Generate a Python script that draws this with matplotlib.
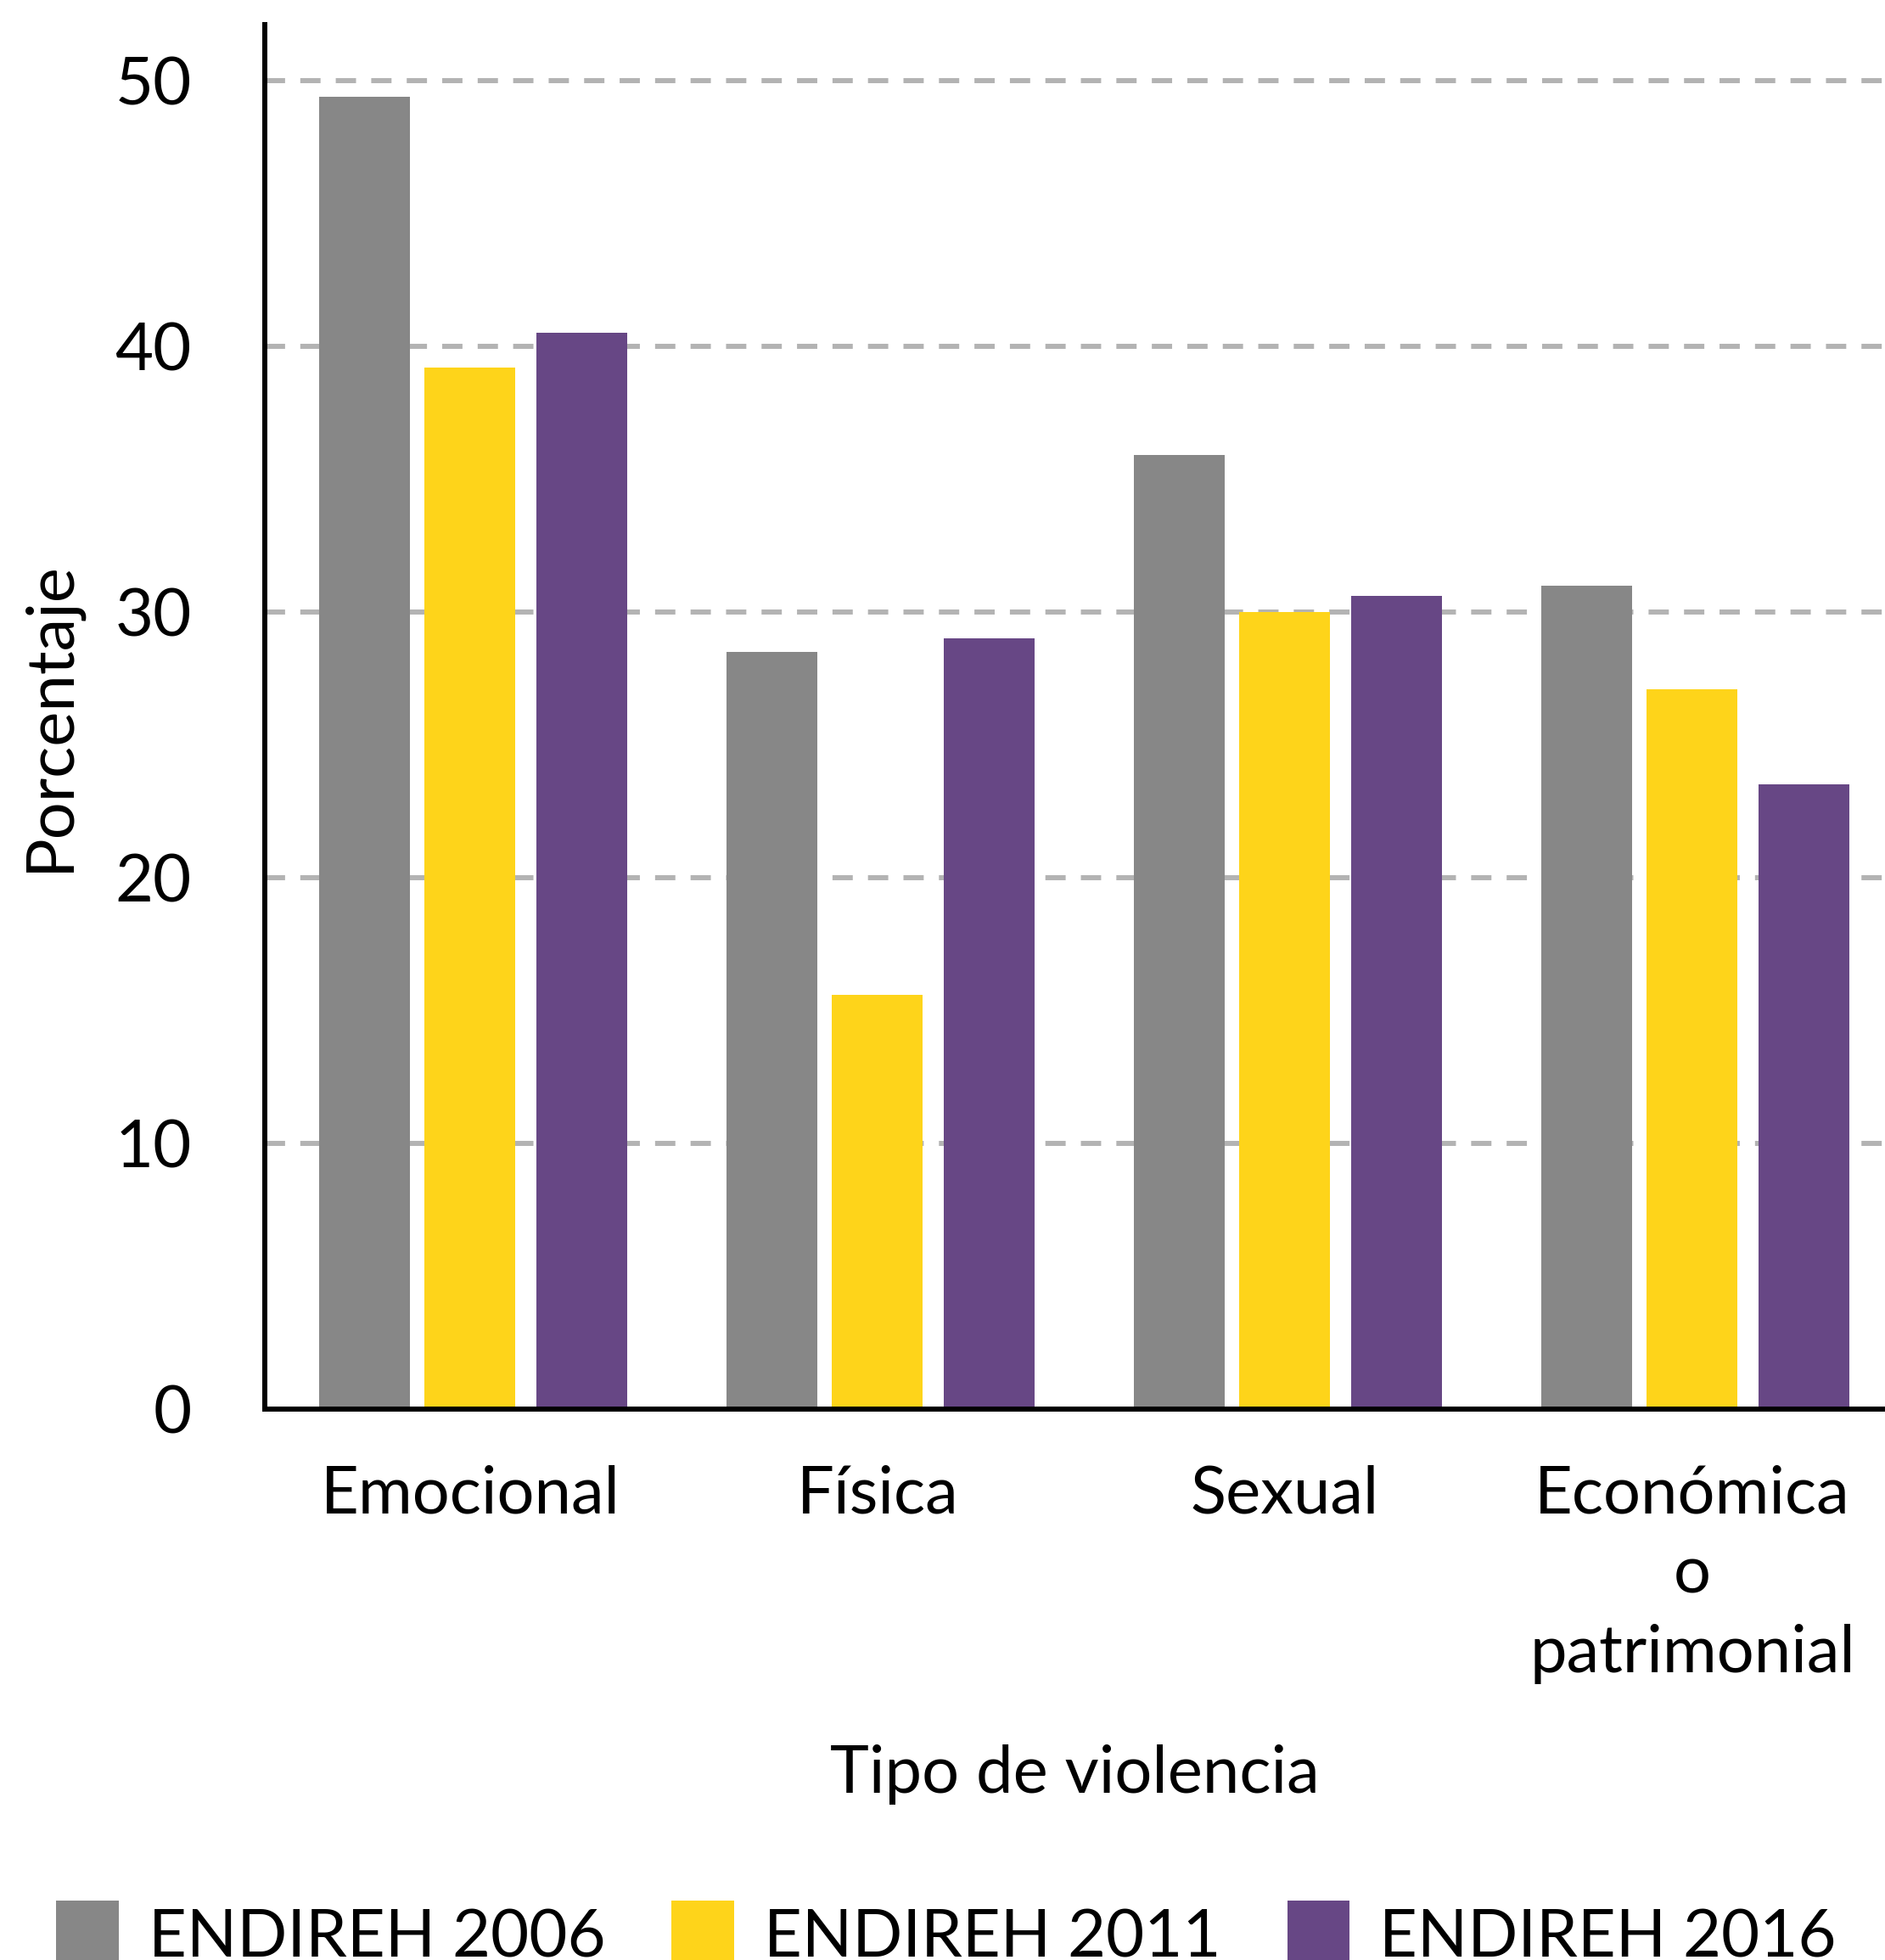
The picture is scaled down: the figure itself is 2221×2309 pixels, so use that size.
import matplotlib.pyplot as plt
import numpy as np

plt.rcParams['font.family'] = ['Lato', 'DejaVu Sans']

# data
categories = ["Emocional", "Física", "Sexual", "Económica\no\npatrimonial"]
series_names = ["ENDIREH 2006", "ENDIREH 2011", "ENDIREH 2016"]
values_2006 = [49.4, 28.5, 35.9, 31.0]
values_2011 = [39.2, 15.6, 30.0, 27.1]
values_2016 = [40.5, 29.0, 30.6, 23.5]
colors = ["#878787", "#FED41A", "#674785"]

fig = plt.figure(figsize=(22.21, 23.09), dpi=100)
ax = fig.add_axes([312 / 2221, 1 - 1660 / 2309, 1 - 312 / 2221, (1660 - 29) / 2309])

x = np.arange(len(categories))
offsets = [-0.26, 0.0, 0.275]
width = 0.223
for vals, off, col, name in zip([values_2006, values_2011, values_2016], offsets, colors, series_names):
    ax.bar(x + off, vals, width, color=col, label=name, zorder=2)

ax.set_xlim(-0.504, 3.473)
ax.set_ylim(0, 52.1)
ax.set_yticks([0, 10, 20, 30, 40, 50])
ax.set_xticks(x)
ax.set_xticklabels(categories, linespacing=1.4)

# dashed horizontal grid
ax.yaxis.grid(True, color="#b3b3b3", linewidth=4.3, linestyle=(0, (4, 3)), zorder=1)
ax.set_axisbelow(True)

for s in ["top", "right"]:
    ax.spines[s].set_visible(False)
for s in ["left", "bottom"]:
    ax.spines[s].set_linewidth(4.3)
    ax.spines[s].set_zorder(3)

fs = 56
ax.tick_params(axis="y", length=0, pad=62, labelsize=fs)
ax.tick_params(axis="x", length=0, pad=47, labelsize=fs)

ax.set_ylabel("Porcentaje", fontsize=fs)
ax.yaxis.set_label_coords(-(312 - 59) / (2221 - 312), (1660 - 844) / (1660 - 29))
ax.set_xlabel("Tipo de violencia", fontsize=fs)
ax.xaxis.set_label_coords(0.5, -(2091 - 1660) / (1660 - 29))
ax.xaxis.label.set_va("center")
ax.yaxis.label.set_va("center")

# legend is partly cut by the bottom edge, as in the original
fig.legend(loc="lower left", bbox_to_anchor=(35 / 2221, -0.018), ncol=3, frameon=False,
           fontsize=fs, handlelength=0.95, handleheight=1.2, handletextpad=0.45,
           columnspacing=1.0, borderaxespad=0)

fig.savefig("out.png", dpi=100)
